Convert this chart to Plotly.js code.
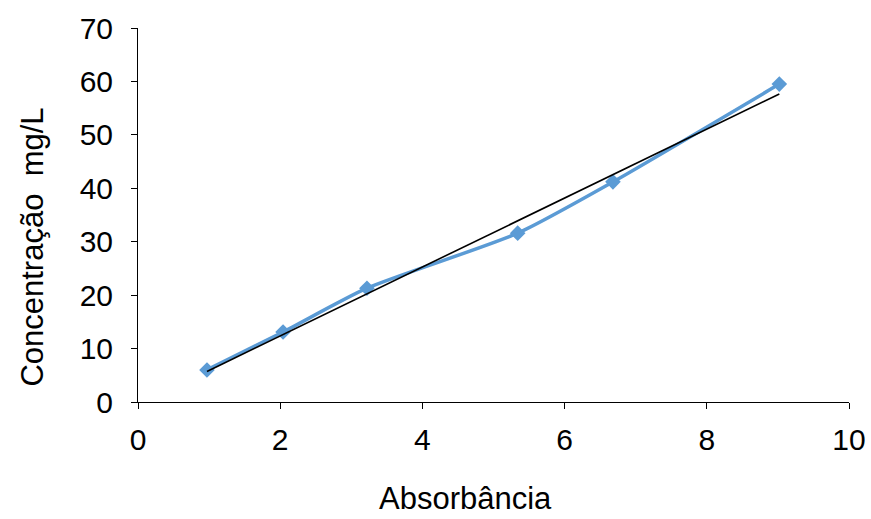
<!DOCTYPE html>
<html><head><meta charset="utf-8">
<script src="https://cdn.plot.ly/plotly-3.0.1.min.js"></script>
<style>html,body{margin:0;padding:0;background:#fff}#c{width:871px;height:519px}</style>
</head><body><div id="c"></div>
<script>
const absorbancia = [0.97, 2.04, 3.22, 5.34, 6.68, 9.02];
const concentracao = [6.0, 13.1, 21.3, 31.6, 41.2, 59.5];
const xTicks = [0, 2, 4, 6, 8, 10];
const yTicks = [0, 10, 20, 30, 40, 50, 60, 70];
const xTitle = 'Absorbância';
const yTitle = 'Concentração  mg/L';

// linear trendline (least squares) from the data
const n = absorbancia.length;
const mx = absorbancia.reduce((a,b)=>a+b,0)/n;
const my = concentracao.reduce((a,b)=>a+b,0)/n;
let sxy=0, sxx=0;
for (let i=0;i<n;i++){sxy+=(absorbancia[i]-mx)*(concentracao[i]-my);sxx+=(absorbancia[i]-mx)**2;}
const slope = sxy/sxx, icpt = my - slope*mx;
const tx = [absorbancia[0], absorbancia[n-1]];
const ty = tx.map(v=>icpt+slope*v);

const fam = '"Liberation Sans", Arial, sans-serif';
const tickFont = {family:fam, size:30, color:'#000'};
const titleFont = {family:fam, size:31, color:'#000'};
const data = [
 {x:absorbancia, y:concentracao, mode:'lines+markers', type:'scatter',
  line:{color:'#5B9BD5', width:3.5, shape:'spline', smoothing:0.6},
  marker:{symbol:'diamond', size:12, color:'#5B9BD5'}},
 {x:tx, y:ty, mode:'lines', type:'scatter', line:{color:'#000', width:1.6}}
];
const layout = {
 width:871, height:519, showlegend:false,
 paper_bgcolor:'#fff', plot_bgcolor:'#fff',
 margin:{l:138, r:22, t:28, b:117},
 font:tickFont,
 xaxis:{range:[0,10], tickvals:xTicks, ticktext:xTicks.map(String), showgrid:false, zeroline:false,
   showline:true, linecolor:'#000', linewidth:1, ticks:'outside', ticklen:6, tickcolor:'#000',
   tickfont:tickFont, ticklabelstandoff:5},
 yaxis:{range:[0,70], tickvals:yTicks, ticktext:yTicks.map(String), showgrid:false, zeroline:false,
   showline:true, linecolor:'#000', linewidth:1, ticks:'outside', ticklen:6, tickcolor:'#000',
   tickfont:tickFont, ticklabelstandoff:12},
 annotations:[
  {text:xTitle, xref:'paper', yref:'paper', x:0.461, y:-0.259, xanchor:'center', yanchor:'middle',
   showarrow:false, font:titleFont},
  {text:yTitle, xref:'paper', yref:'paper', x:-0.149, y:0.413, xanchor:'center', yanchor:'middle',
   showarrow:false, textangle:-90, font:titleFont}
 ]
};
Plotly.newPlot('c', data, layout, {displayModeBar:false, staticPlot:true});
</script></body></html>
